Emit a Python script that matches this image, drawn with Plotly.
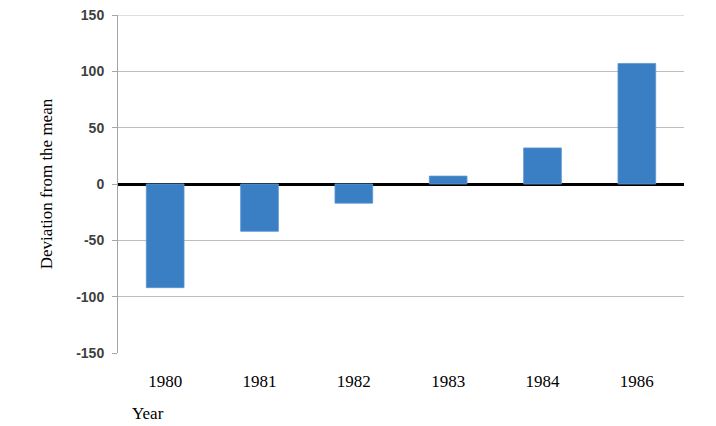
import plotly.graph_objects as go

years = ["1980", "1981", "1982", "1983", "1984", "1986"]
deviation = [-92, -42, -17, 7, 32, 107]
y_ticks = [150, 100, 50, 0, -50, -100, -150]
y_tick_labels = ["150", "100", "50", "0", "-50", "-100", "-150"]

fig = go.Figure()
fig.add_trace(go.Bar(
    x=years, y=deviation,
    marker=dict(color="#3A7EC4", line=dict(color="#5A95D2", width=0.8)),
    showlegend=False,
))

# page body has an 8px margin, so the figure is sized to fit the 716x426 window
fig.update_layout(
    width=708, height=418,
    margin=dict(l=110, r=32, t=7, b=73, autoexpand=False),
    paper_bgcolor="white", plot_bgcolor="white",
    bargap=0.6,
    xaxis=dict(
        type="category", automargin=False,
        showgrid=False, showline=False, zeroline=False,
        ticks="", ticklabelstandoff=16,
        tickfont=dict(family="Liberation Serif", size=17, color="black"),
    ),
    yaxis=dict(
        range=[-150, 150], tickvals=y_ticks, ticktext=y_tick_labels,
        automargin=False, ticklabeloverflow="allow",
        showgrid=True, gridcolor="#BDBDBD", gridwidth=1,
        showline=True, linecolor="#A6A6A6", linewidth=1,
        ticks="outside", ticklen=5, tickcolor="#A6A6A6",
        ticklabelstandoff=5,
        zeroline=True, zerolinecolor="black", zerolinewidth=2.5,
        layer="above traces",
        tickfont=dict(family="Liberation Sans", size=14, color="#404040", weight="bold"),
        title=dict(text="Deviation from the mean", standoff=19,
                   font=dict(family="Liberation Serif", size=17, color="black")),
    ),
    shapes=[dict(
        type="line", xref="paper", yref="y", x0=0, x1=1,
        y0=y_ticks[0], y1=y_ticks[0], line=dict(color="#BDBDBD", width=1),
        layer="below",
    )],
    annotations=[dict(
        text="Year", xref="paper", yref="paper", x=0.053, y=-0.18,
        xanchor="center", yanchor="middle", showarrow=False,
        font=dict(family="Liberation Serif", size=17, color="black"),
    )],
)

fig.write_html("out.html")
